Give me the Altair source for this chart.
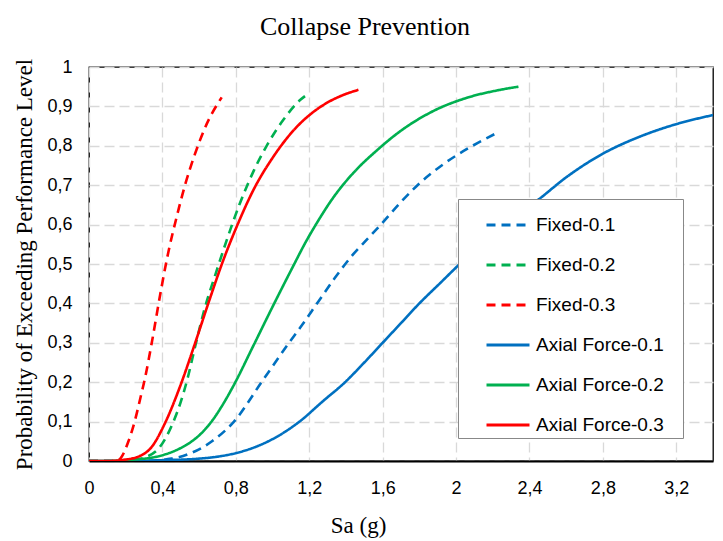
import altair as alt
import pandas as pd

series_names = ["Fixed-0.1", "Fixed-0.2", "Fixed-0.3",
                "Axial Force-0.1", "Axial Force-0.2", "Axial Force-0.3"]
series_colors = ["#0070C0", "#00B050", "#FF0000", "#0070C0", "#00B050", "#FF0000"]
series_dashes = [[9, 6], [9, 6], [9, 6], [1, 0], [1, 0], [1, 0]]

x_ticks = [0, 0.4, 0.8, 1.2, 1.6, 2.0, 2.4, 2.8, 3.2]
y_ticks = [0, 0.1, 0.2, 0.3, 0.4, 0.5, 0.6, 0.7, 0.8, 0.9, 1.0]

fixed01_sa = [0, 0.30, 0.45, 0.55, 0.67, 0.79, 0.94, 1.09, 1.15, 1.25, 1.34, 1.44, 1.52, 1.60,
              1.695, 1.79, 1.93, 2.09, 2.22]
fixed01_p = [0, 0.0, 0.006, 0.019, 0.05, 0.10, 0.20, 0.30, 0.338, 0.405, 0.465, 0.525, 0.565, 0.605,
             0.655, 0.70, 0.753, 0.80, 0.832]

fixed02_sa = [0, 0.20, 0.314, 0.387, 0.46, 0.50, 0.54, 0.578, 0.632, 0.69, 0.75, 0.823, 0.896,
              0.968, 1.059, 1.15, 1.177]
fixed02_p = [0, 0.0, 0.011, 0.036, 0.10, 0.15, 0.215, 0.29, 0.39, 0.475, 0.56, 0.655, 0.735,
             0.80, 0.866, 0.916, 0.926]

fixed03_sa = [0, 0.15, 0.178, 0.215, 0.251, 0.28, 0.305, 0.342, 0.387, 0.43, 0.478, 0.523,
              0.578, 0.641, 0.723]
fixed03_p = [0, 0.0, 0.011, 0.05, 0.104, 0.16, 0.21, 0.30, 0.42, 0.525, 0.62, 0.70,
             0.78, 0.855, 0.923]

axial01_sa = [0, 0.2, 0.4, 0.6, 0.7, 0.8, 0.93, 1.04, 1.155, 1.27, 1.395, 1.5, 1.6, 1.7, 1.8, 1.91,
              2.02, 2.2, 2.3, 2.45, 2.6, 2.8, 3.0, 3.2, 3.4]
axial01_p = [0, 0.0, 0.002, 0.006, 0.011, 0.02, 0.04, 0.066, 0.103, 0.15, 0.20, 0.25, 0.30, 0.35,
             0.40, 0.45, 0.50, 0.575, 0.615, 0.664, 0.72, 0.78, 0.823, 0.855, 0.878]

axial02_sa = [0, 0.10, 0.223, 0.369, 0.478, 0.569, 0.62, 0.677, 0.73, 0.786, 0.896, 1.004, 1.113,
              1.18, 1.24, 1.33, 1.44, 1.57, 1.69, 1.875, 2.06, 2.24, 2.34]
axial02_p = [0, 0.0, 0.003, 0.011, 0.028, 0.053, 0.074, 0.106, 0.144, 0.19, 0.293, 0.395, 0.495,
             0.555, 0.603, 0.668, 0.731, 0.789, 0.835, 0.888, 0.922, 0.942, 0.95]

axial03_sa = [0, 0.10, 0.187, 0.269, 0.342, 0.414, 0.496, 0.578, 0.65, 0.732, 0.805, 0.896, 1.004,
              1.132, 1.22, 1.30, 1.38, 1.468]
axial03_p = [0, 0.0, 0.003, 0.011, 0.036, 0.096, 0.189, 0.299, 0.40, 0.51, 0.595, 0.688, 0.772,
             0.848, 0.885, 0.91, 0.928, 0.942]

sa_lists = [fixed01_sa, fixed02_sa, fixed03_sa, axial01_sa, axial02_sa, axial03_sa]
p_lists = [fixed01_p, fixed02_p, fixed03_p, axial01_p, axial02_p, axial03_p]

rows = []
for k, (name, sa, p) in enumerate(zip(series_names, sa_lists, p_lists)):
    for i, (s, v) in enumerate(zip(sa, p)):
        rows.append({"series": name, "sa": s, "p": v, "i": i, "k": k})
df = pd.DataFrame(rows)

LABEL_FONT = "Liberation Sans Narrow, Liberation Sans, Arial"
SERIF = "Liberation Serif, Times New Roman, serif"
TICK_EXPR = "replace(format(datum.value, '.1~f'), '.', ',')"

chart = alt.Chart(df).mark_line(strokeWidth=2.6, interpolate="monotone", clip=True).encode(
    x=alt.X("sa:Q",
            scale=alt.Scale(domain=[0, 3.4], nice=False, zero=True),
            axis=alt.Axis(values=x_ticks, labelExpr=TICK_EXPR, labelFlush=False,
                          title="Sa (g)", titleX=269, titleY=71, titleBaseline="alphabetic",
                          titleAlign="center", labelPadding=18, domain=True,
                          domainColor="#000", domainWidth=2)),
    y=alt.Y("p:Q",
            scale=alt.Scale(domain=[0, 1], nice=False),
            axis=alt.Axis(values=y_ticks, labelExpr=TICK_EXPR,
                          title="Probability of Exceeding  Performance Level",
                          titleX=-58, titleY=197, titleAngle=270, titleBaseline="alphabetic",
                          titleAlign="center", labelPadding=17)),
    color=alt.Color("series:N", sort=series_names,
                    scale=alt.Scale(domain=series_names, range=series_colors),
                    legend=alt.Legend(title="\u00a0")),
    strokeDash=alt.StrokeDash("series:N", sort=series_names,
                              scale=alt.Scale(domain=series_names, range=series_dashes),
                              legend=alt.Legend(title="\u00a0")),
    order="i:Q",
).properties(
    width=624, height=394,
    autosize=alt.AutoSizeParams(type="none"),
    padding={"left": 89, "top": 67, "right": 10, "bottom": 80},
    title=alt.Title("Collapse Prevention", font=SERIF, fontSize=26, fontWeight="normal",
                    color="#000", anchor="middle", dx=-36, offset=-6, baseline="alphabetic"),
).configure_view(
    stroke="#000", strokeWidth=1.3
).configure_axis(
    grid=True, gridColor="#d9d9d9", gridDash=[10, 5], gridWidth=1.3,
    ticks=False, domain=False,
    labelFont=LABEL_FONT, labelFontSize=18, labelColor="#000",
    titleFont=SERIF, titleFontSize=23, titleFontWeight="normal", titleColor="#000",
).configure_legend(
    orient="none", legendX=369, legendY=132,
    padding=3, fillColor="#ffffff", strokeColor="#888888", cornerRadius=0,
    labelFont=LABEL_FONT, labelFontSize=19, labelColor="#000",
    titleOrient="right", titlePadding=16, titleFontSize=2, titleColor="#ffffff",
    symbolType="stroke", symbolSize=1849, symbolStrokeWidth=3,
    labelOffset=5, rowPadding=7, symbolOffset=24,
)

chart.save("out.html", embed_options={"renderer": "svg", "actions": False})
